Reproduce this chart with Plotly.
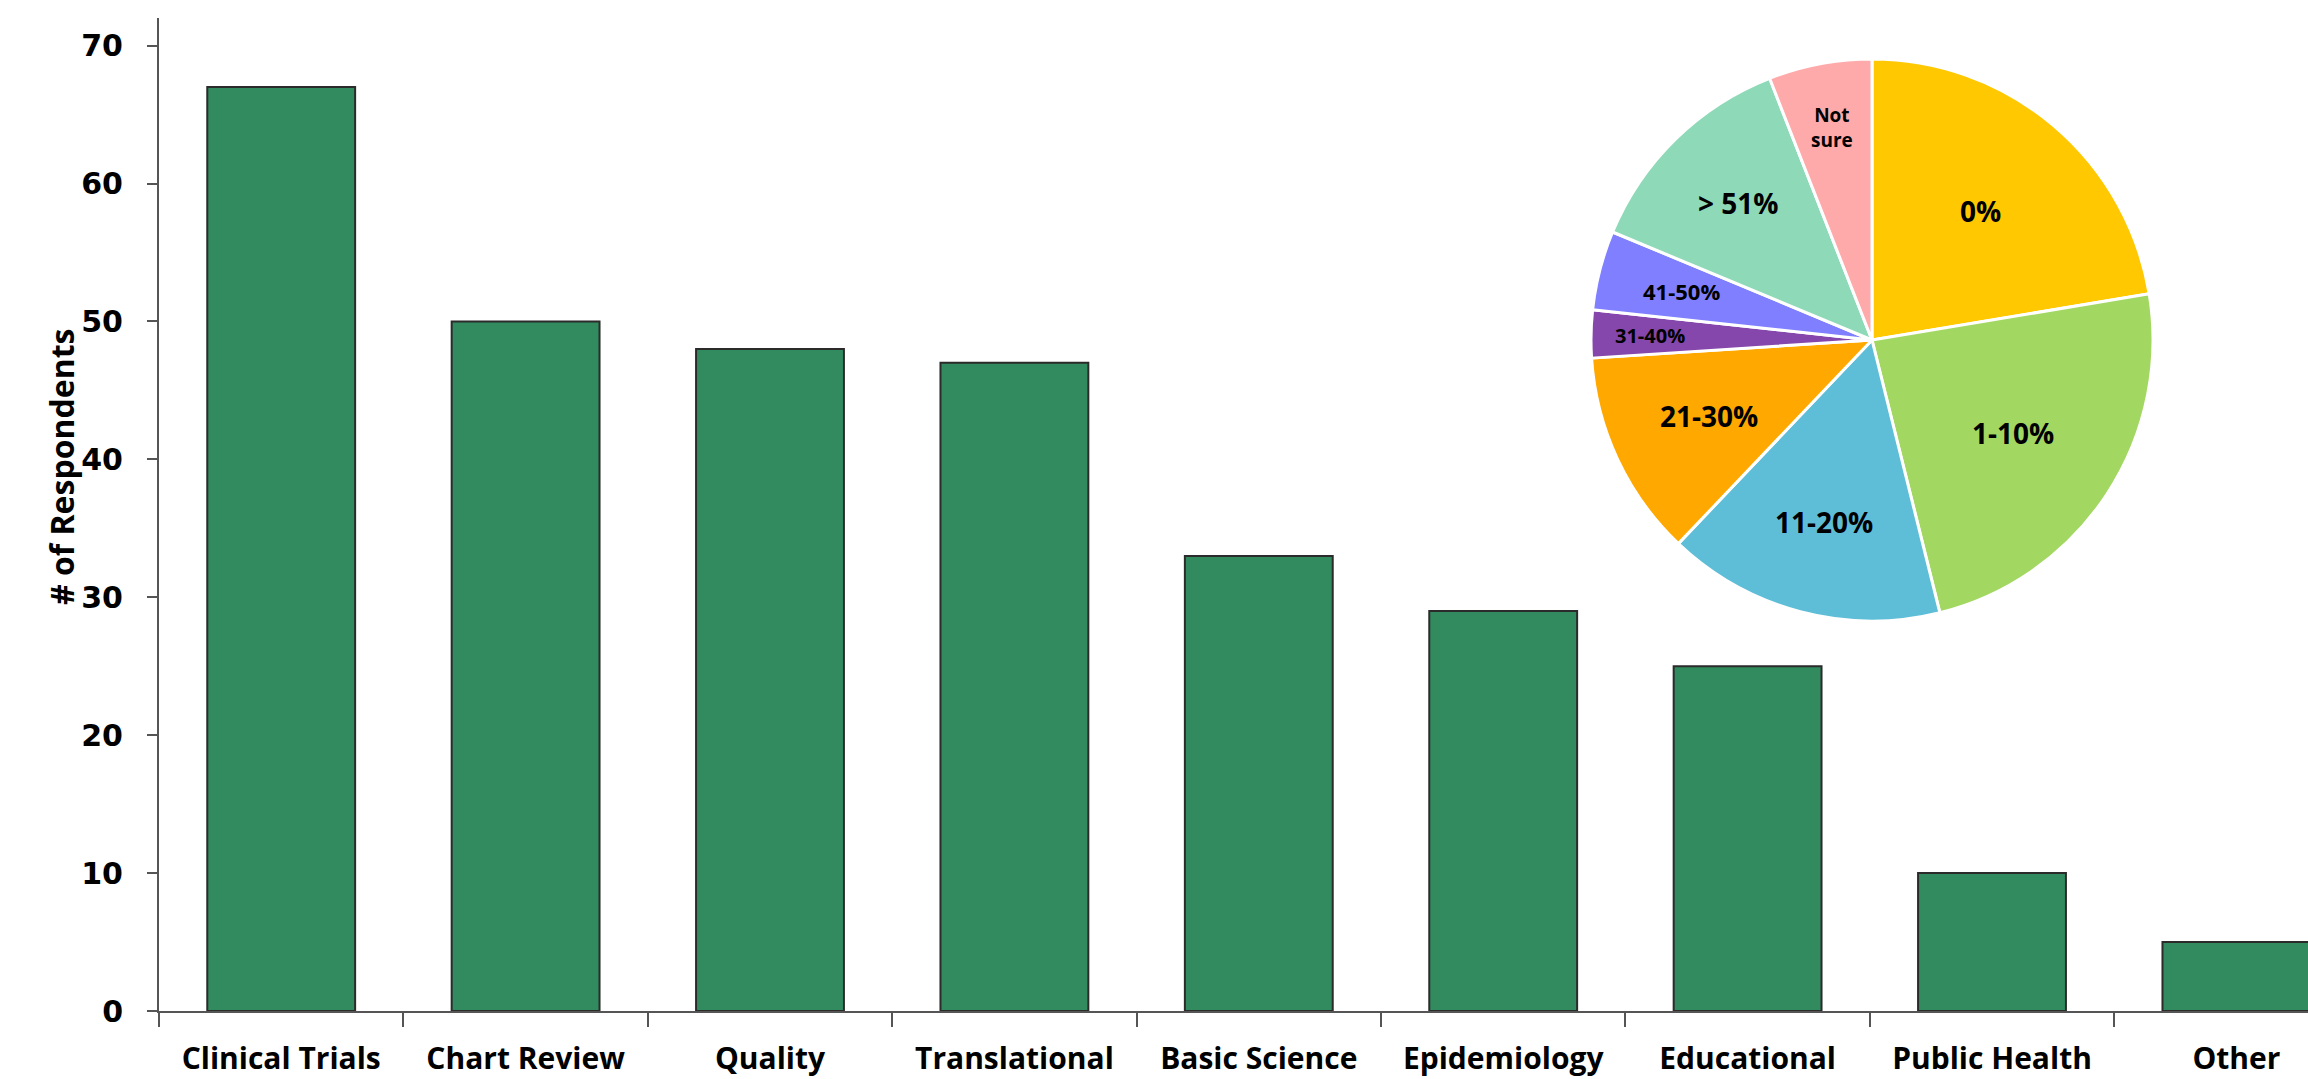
import math
import plotly.graph_objects as go

# Research categories and respondent counts
categories = ["Clinical Trials", "Chart Review", "Quality", "Translational",
              "Basic Science", "Epidemiology", "Educational", "Public Health", "Other"]
respondents = [67, 50, 48, 47, 33, 29, 25, 10, 5]

# Share of time spent on research (pie inset)
share_labels = ["0%", "1-10%", "11-20%", "21-30%", "31-40%", "41-50%", "> 51%", "Not<br>sure"]
share_counts = [49, 52, 35, 26, 6, 10, 28, 13]

y_ticks = [0, 10, 20, 30, 40, 50, 60, 70]

# Styling
BAR_COLOR = "#318B5E"
PIE_COLORS = ["#FFC800", "#A2D762", "#5EBED8", "#FFA800",
              "#8547AC", "#7F7FFF", "#8ED9B8", "#FFAAAA"]
LABEL_FONT = "Open Sans, Lato, sans-serif"
TICK_FONT = "DejaVu Sans, Verdana, sans-serif"
pie_label_sizes = [28, 28, 28, 28, 20, 22, 28, 19]
pie_label_radius = [0.60, 0.60, 0.67, 0.64, 0.79, 0.70, 0.68, 0.77]  # fraction of pie radius

W, H = 2308, 1079
M_L, M_R, M_T, M_B = 159, 0, 18, 68
plot_w = W - M_L - M_R
plot_h = H - M_T - M_B


def to_paper(px, py):
    return (px - M_L) / plot_w, (H - M_B - py) / plot_h


fig = go.Figure()

fig.add_trace(go.Bar(
    x=categories,
    y=respondents,
    marker=dict(color=BAR_COLOR, line=dict(color="#2b2b2b", width=2)),
    width=0.605,
    showlegend=False,
    hoverinfo="x+y",
))

# Pie inset in the upper right of the plotting area
cx, cy, r = 1872, 340, 281
x0, y1 = to_paper(cx - r, cy - r)
x1, y0 = to_paper(cx + r, cy + r)
fig.add_trace(go.Pie(
    labels=share_labels,
    values=share_counts,
    textinfo="none",
    marker=dict(colors=PIE_COLORS, line=dict(color="white", width=3)),
    sort=False,
    direction="clockwise",
    rotation=0,
    showlegend=False,
    domain=dict(x=[x0, x1], y=[y0, y1]),
))

# Slice labels, each placed on its slice's bisector
annotations = []
total = sum(share_counts)
cum = 0
for lab, val, size, frac in zip(share_labels, share_counts, pie_label_sizes, pie_label_radius):
    mid = (cum + val / 2) / total * 2 * math.pi  # clockwise from 12 o'clock
    cum += val
    px = cx + r * frac * math.sin(mid)
    py = cy - r * frac * math.cos(mid)
    ax, ay = to_paper(px, py)
    annotations.append(dict(
        text=lab, x=ax, y=ay, xref="paper", yref="paper",
        showarrow=False, xanchor="center", yanchor="middle",
        font=dict(family=LABEL_FONT, size=size, color="black", weight="bold"),
    ))

# Y axis title
annotations.append(dict(
    text="# of Respondents",
    xref="paper", yref="paper",
    x=0, xshift=61 - M_L,
    y=(H - M_B - 467) / plot_h,
    textangle=-90,
    showarrow=False,
    xanchor="center", yanchor="middle",
    font=dict(family=LABEL_FONT, size=32, color="black", weight="bold"),
))

fig.update_layout(
    width=W, height=H,
    margin=dict(l=M_L, r=M_R, t=M_T, b=M_B, pad=0),
    paper_bgcolor="white",
    plot_bgcolor="white",
    xaxis=dict(
        type="category",
        range=[-0.5, -0.5 + plot_w / 244.4],
        showline=True, linecolor="#555555", linewidth=2,
        ticks="outside", tickson="boundaries", ticklen=14, tickcolor="#555555", tickwidth=2,
        tickfont=dict(family=LABEL_FONT, size=30, color="black", weight="bold"),
        showgrid=False, zeroline=False,
        ticklabelstandoff=20,
    ),
    yaxis=dict(
        range=[0, 72],
        tickvals=y_ticks,
        showline=True, linecolor="#555555", linewidth=2,
        ticks="outside", ticklen=10, tickcolor="#555555", tickwidth=2,
        tickfont=dict(family=TICK_FONT, size=30, color="black", weight="bold"),
        showgrid=False, zeroline=False,
        ticklabelstandoff=18,
    ),
    annotations=annotations,
)

fig.write_html("out.html")
